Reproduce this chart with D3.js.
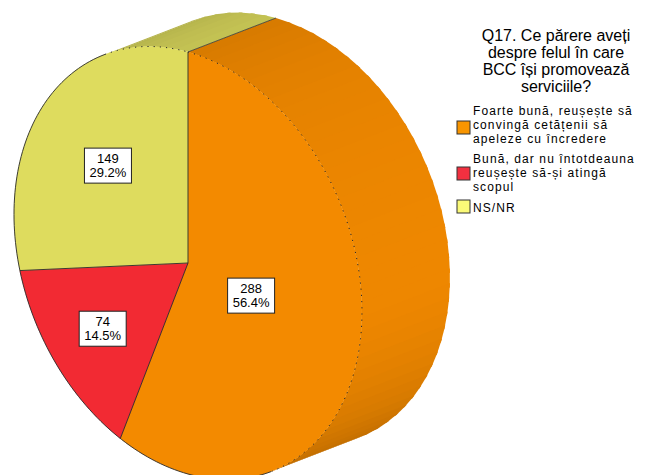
<!doctype html>
<meta charset="utf-8">
<script src="https://d3js.org/d3.v7.min.js"></script>
<style>
  body { margin: 0; background: #fff; }
  text { font-family: "Liberation Sans", Arial, sans-serif; fill: #000; }
</style>
<body>
<svg width="645" height="475"></svg>
<script>
// ---- data ----
var categories = ["Foarte bună, reușește să convingă cetățenii să apeleze cu încredere",
  "Bună, dar nu întotdeauna reușește să-și atingă scopul",
  "NS/NR"];
var counts = [288, 74, 149];
var percents = ["56.4%", "14.5%", "29.2%"];
var legendLines = [
  ["Foarte bună, reușește să", "convingă cetățenii să", "apeleze cu încredere"],
  ["Bună, dar nu întotdeauna", "reușește să-și atingă", "scopul"],
  ["NS/NR"]
];
var titleLines = ["Q17. Ce părere aveți", "despre felul în care", "BCC își promovează", "serviciile?"];
var colors = ["#f38a00", "#f22a33", "#dedc5e"];
var swatchColors = ["#f89500", "#f23040", "#fbfa78"];

var svg = d3.select("svg");
svg.append("rect").attr("width", 645).attr("height", 475).attr("fill", "#fff");

// tilted pie projection (front face), plus extrusion offset
var cx = 188, cy = 263, ax = 174, cy_u = 48.6, ay = 211;
var off = [88, -34];
function proj(theta, k) {
  if (k === undefined) k = 1;
  var u = Math.sin(theta) * k, v = -Math.cos(theta) * k;
  return [cx + ax * u, cy + cy_u * u + ay * v];
}
// is the side of the cylinder at angle theta facing the viewer?
function sideVisible(t1, t2) {
  var p1 = proj(t1), p2 = proj(t2);
  var nx = p2[1] - p1[1], ny = -(p2[0] - p1[0]);
  return nx * off[0] + ny * off[1] > 0;
}

var pie = d3.pie().sort(null).value(function (d) { return d; });
var arcs = pie(counts);
var line = d3.line();
var g = svg.append("g");

// --------------------------------------------------------------- //
// side of the cylinder: bands of small quads, only those facing the viewer
var steps = 90;
arcs.forEach(function (a, i) {
  var n = Math.max(2, Math.round(steps * (a.endAngle - a.startAngle) / (2 * Math.PI)));
  var dt = (a.endAngle - a.startAngle) / n;
  for (var s = 0; s < n; s++) {
    var t1 = a.startAngle + dt * s;
    var t2 = Math.min(a.endAngle, t1 + dt * 1.3); // slight overlap to hide seams
    if (!sideVisible(t1, t1 + dt)) continue;
    var p1 = proj(t1), p2 = proj(t2);
    var q1 = proj(t1), q2 = proj(t1 + dt);
    var nx = q2[1] - q1[1], ny = -(q2[0] - q1[0]);
    var len = Math.sqrt(nx * nx + ny * ny);
    var f = 0.85 + 0.13 * (nx / len) - 0.12 * Math.max(0, ny / len);
    var base = d3.rgb(colors[i]);
    var c = d3.rgb(base.r * f, base.g * f, base.b * f).formatHex();
    g.append("path")
      .attr("d", line([p1, p2, [p2[0] + off[0], p2[1] + off[1]], [p1[0] + off[0], p1[1] + off[1]]]) + "Z")
      .attr("fill", c);
  }
});

// edge lines on the side at slice boundaries (if visible)
arcs.forEach(function (a) {
  var t = a.startAngle;
  if (!sideVisible(t - 0.01, t + 0.01)) return;
  var p = proj(t);
  g.append("line")
    .attr("x1", p[0]).attr("y1", p[1])
    .attr("x2", p[0] + off[0]).attr("y2", p[1] + off[1])
    .attr("stroke", "#333").attr("stroke-width", 0.8);
});

// --------------------------------------------------------------- //
// front face
arcs.forEach(function (a, i) {
  var pts = [[cx, cy]];
  var n = 80;
  for (var s = 0; s <= n; s++) {
    pts.push(proj(a.startAngle + (a.endAngle - a.startAngle) * s / n));
  }
  g.append("path")
    .attr("d", line(pts) + "Z")
    .attr("fill", colors[i])
    .attr("stroke", colors[i])
    .attr("stroke-width", 0.3);
});

// radial slice borders
arcs.forEach(function (a) {
  var p = proj(a.startAngle);
  g.append("line")
    .attr("x1", cx).attr("y1", cy)
    .attr("x2", p[0]).attr("y2", p[1])
    .attr("stroke", "#2a2a2a").attr("stroke-width", 0.9);
});

// outer rim of the face: solid against the background, dotted against the side
var rimSteps = 240;
var runs = [];
for (var s = 0; s < rimSteps; s++) {
  var t1 = 2 * Math.PI * s / rimSteps, t2 = 2 * Math.PI * (s + 1) / rimSteps;
  var vis = sideVisible(t1, t2);
  if (!runs.length || runs[runs.length - 1].vis !== vis) {
    runs.push({ vis: vis, pts: [proj(t1)] });
  }
  runs[runs.length - 1].pts.push(proj(t2));
}
runs.forEach(function (r) {
  g.append("path")
    .attr("d", line(r.pts))
    .attr("fill", "none")
    .attr("stroke", "#2a2a2a")
    .attr("stroke-width", r.vis ? 1 : 0.9)
    .attr("stroke-dasharray", r.vis ? "1.2,5" : null);
});

// --------------------------------------------------------------- //
// value labels in white boxes
var labelR = [0.37, 0.65, 0.58];
arcs.forEach(function (a, i) {
  var mid = (a.startAngle + a.endAngle) / 2;
  var p = proj(mid, labelR[i]);
  var lg = g.append("g").attr("transform", "translate(" + p[0] + "," + p[1] + ")");
  lg.append("rect")
    .attr("x", -23.5).attr("y", -18)
    .attr("width", 47).attr("height", 35)
    .attr("fill", "#fff").attr("stroke", "#222").attr("stroke-width", 1);
  var t = lg.append("text")
    .attr("text-anchor", "middle")
    .attr("font-size", "13px");
  t.append("tspan").attr("x", 0).attr("y", -3).text(counts[i]);
  t.append("tspan").attr("x", 0).attr("y", 11).text(percents[i]);
});

// --------------------------------------------------------------- //
// title
svg.append("text")
  .attr("text-anchor", "middle")
  .attr("font-size", "16px")
  .selectAll("tspan")
  .data(titleLines)
  .enter().append("tspan")
  .attr("x", 556)
  .attr("y", function (d, i) { return 41 + i * 17; })
  .text(function (d) { return d; });

// legend
var legendBase = [115, 163, 212];
var swatchY = [121, 167, 200];
categories.forEach(function (c, i) {
  svg.append("rect")
    .attr("x", 457).attr("y", swatchY[i])
    .attr("width", 13).attr("height", 13)
    .attr("fill", swatchColors[i])
    .attr("stroke", "#333").attr("stroke-width", 1);
  svg.append("text")
    .attr("font-size", "12px")
    .attr("letter-spacing", "1.1px")
    .selectAll("tspan")
    .data(legendLines[i])
    .enter().append("tspan")
    .attr("x", 473)
    .attr("y", function (d, j) { return legendBase[i] + j * 14; })
    .text(function (d) { return d; });
});
</script>
</body>
